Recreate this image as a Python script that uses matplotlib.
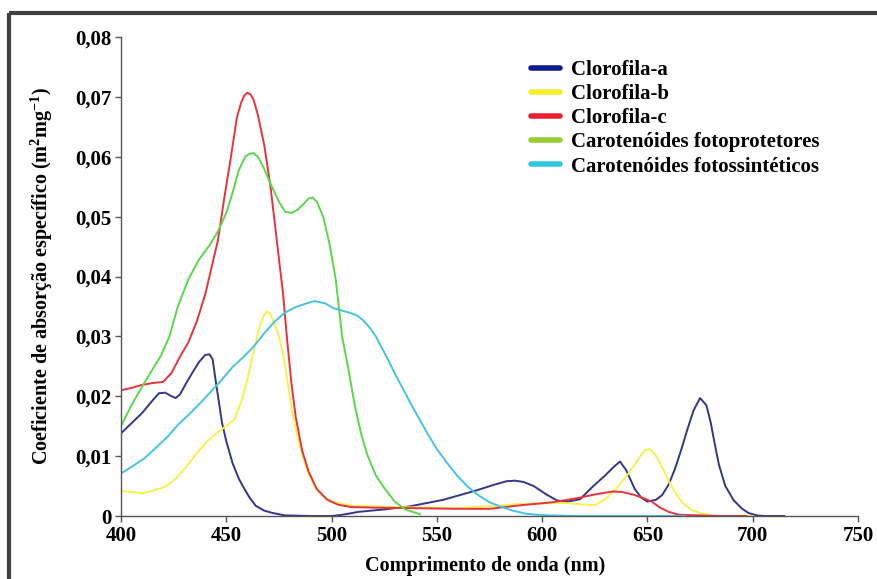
import matplotlib
matplotlib.use('Agg')
import matplotlib.pyplot as plt
from matplotlib.lines import Line2D

plt.rcParams['font.family'] = ['Liberation Serif', 'DejaVu Serif']
plt.rcParams['font.weight'] = 'bold'
plt.rcParams['mathtext.fontset'] = 'custom'
plt.rcParams['mathtext.rm'] = 'Liberation Serif:bold'
plt.rcParams['mathtext.bf'] = 'Liberation Serif:bold'

# Clorofila-a
wl_a = [400, 405, 410, 415, 418, 421, 424, 426, 428, 431, 434, 437, 440, 442, 443.5, 445, 448,
        450, 453, 456, 458, 461, 464, 468, 472, 478, 490, 500, 505, 513, 525, 537, 553, 569,
        577, 583, 587, 591, 596, 602, 607, 612, 618, 624, 630, 634, 637, 640, 644, 647, 650,
        654, 657, 660, 663, 666, 669, 672, 675, 678, 680, 682, 684, 687, 691, 695, 698, 702,
        706, 715]
abs_a = [0.0138, 0.0155, 0.0172, 0.0193, 0.0205, 0.0206, 0.0200, 0.0197, 0.0203, 0.0222,
         0.0240, 0.0257, 0.0269, 0.0270, 0.0262, 0.0225, 0.0155, 0.0125, 0.0088, 0.0062,
         0.0049, 0.0031, 0.0017, 0.0009, 0.0005, 0.0001, 0.0, 0.0, 0.0002, 0.0007, 0.0011,
         0.0016, 0.0027, 0.0043, 0.0052, 0.0058, 0.0059, 0.0057, 0.0050, 0.0036, 0.0026,
         0.0024, 0.0028, 0.0049, 0.0068, 0.0082, 0.0091, 0.0076, 0.0045, 0.0031, 0.0024,
         0.0027, 0.0035, 0.0052, 0.0078, 0.0110, 0.0145, 0.0177, 0.0197, 0.0185, 0.0157,
         0.0120, 0.0085, 0.0050, 0.0026, 0.0012, 0.0005, 0.0001, 0.0, 0.0]

# Clorofila-b
wl_b = [400, 405, 410, 415, 421, 426, 431, 436, 441, 446, 451, 454, 457, 460, 462, 464, 466,
        468, 469.5, 471, 473, 475, 477, 479, 481, 483, 485, 488, 492, 496, 500, 510, 530, 560,
        590, 610, 620, 625, 630, 635, 640, 644, 647, 649, 651, 653, 655, 658, 661, 664, 667,
        671, 675, 682, 700]
abs_b = [0.0042, 0.0040, 0.0038, 0.0042, 0.0049, 0.0062, 0.0082, 0.0105, 0.0125, 0.0140,
         0.0153, 0.0162, 0.0190, 0.0227, 0.0260, 0.0290, 0.0318, 0.0336, 0.0342, 0.0337,
         0.0320, 0.0300, 0.0270, 0.0225, 0.0180, 0.0145, 0.0116, 0.0080, 0.0048, 0.0033,
         0.0024, 0.0017, 0.0015, 0.0013, 0.0020, 0.0022, 0.0019, 0.0018, 0.0028, 0.0045,
         0.0066, 0.0086, 0.0102, 0.0110, 0.0112, 0.0106, 0.0095, 0.0074, 0.0052, 0.0035,
         0.0021, 0.0010, 0.0005, 0.0, 0.0]

# Clorofila-c
wl_c = [400, 405, 410, 415, 420, 424, 428, 432, 436, 440, 443, 446, 449, 452, 455, 457, 458.5,
        460, 461.5, 463, 465, 468, 471, 474, 477, 479, 481, 483, 486, 489, 493, 498, 503, 509,
        520, 540, 560, 575, 590, 605, 617, 625, 630, 634, 638, 643, 648, 652, 656, 660, 665,
        675, 685, 697]
abs_c = [0.0210, 0.0214, 0.0219, 0.0222, 0.0224, 0.0239, 0.0266, 0.0290, 0.0325, 0.0370,
         0.0415, 0.0460, 0.0530, 0.0595, 0.0665, 0.0690, 0.0702, 0.0707, 0.0704, 0.0695,
         0.0670, 0.0620, 0.0550, 0.0460, 0.0370, 0.0290, 0.0220, 0.0165, 0.0110, 0.0075,
         0.0045, 0.0027, 0.0019, 0.0015, 0.0014, 0.0013, 0.0012, 0.0012, 0.0018, 0.0023,
         0.0030, 0.0036, 0.0039, 0.0041, 0.0040, 0.0036, 0.0030, 0.0024, 0.0014, 0.0007,
         0.0002, 0.0001, 0.0, 0.0]

# Carotenóides fotoprotetores
wl_g = [400, 405, 410, 415, 419, 423, 427, 432, 437, 442, 446, 450, 453, 456, 459, 461, 463,
        465, 468, 471, 475, 478, 481, 484, 487, 489, 491, 493, 496, 499, 502, 505, 508, 511,
        514, 517, 521, 525, 530, 535, 542]
abs_g = [0.0150, 0.0185, 0.0216, 0.0245, 0.0268, 0.0300, 0.0350, 0.0395, 0.0428, 0.0452,
         0.0475, 0.0506, 0.0540, 0.0578, 0.0600, 0.0605, 0.0606, 0.0600, 0.0580, 0.0555,
         0.0525, 0.0508, 0.0506, 0.0512, 0.0522, 0.0530, 0.0532, 0.0525, 0.0500, 0.0455,
         0.0395, 0.0300, 0.0245, 0.0185, 0.0138, 0.0102, 0.0068, 0.0047, 0.0024, 0.0011,
         0.0003]

# Carotenóides fotossintéticos
wl_p = [400, 405, 411, 416, 422, 427, 433, 438, 442, 448, 453, 458, 463, 468, 473, 478, 483,
        488, 492, 497, 501, 505, 509, 512, 515, 518, 521, 524, 527, 530, 534, 538, 542, 546,
        550, 555, 560, 565, 570, 575, 580, 586, 592, 598, 604, 615, 640, 668]
abs_p = [0.0071, 0.0082, 0.0096, 0.0112, 0.0132, 0.0152, 0.0172, 0.0190, 0.0205, 0.0228,
         0.0249, 0.0265, 0.0283, 0.0305, 0.0325, 0.0340, 0.0349, 0.0355, 0.0359, 0.0355,
         0.0347, 0.0343, 0.0339, 0.0335, 0.0327, 0.0315, 0.0300, 0.0280, 0.0260, 0.0238,
         0.0212, 0.0185, 0.0160, 0.0135, 0.0112, 0.0088, 0.0066, 0.0048, 0.0034, 0.0023,
         0.0016, 0.0009, 0.0004, 0.0002, 0.0001, 0.0, 0.0, 0.0]

labels = ['Clorofila-a', 'Clorofila-b', 'Clorofila-c',
          'Carotenóides fotoprotetores', 'Carotenóides fotossintéticos']
line_colors = ['#35358a', '#f6f24a', '#e8323c', '#5cd64c', '#45c3e6']
legend_colors = ['#0d1b8c', '#f5ee2a', '#e8202e', '#9acd32', '#2fc8dc']

fig = plt.figure(figsize=(8.77, 5.79), dpi=100)
ax = fig.add_axes([121/877, 1-516/579, 737/877, 479/579])

series = [(wl_a, abs_a), (wl_b, abs_b), (wl_c, abs_c), (wl_g, abs_g), (wl_p, abs_p)]
for (x, y), c in zip(series, line_colors):
    ax.plot(x, y, color=c, lw=1.4, solid_joinstyle='round')

ax.set_xlim(400, 750)
ax.set_ylim(0, 0.08)
ax.set_xticks([400, 450, 500, 550, 600, 650, 700, 750])
ax.set_yticks([0, 0.01, 0.02, 0.03, 0.04, 0.05, 0.06, 0.07, 0.08])
ax.set_yticklabels(['0', '0,01', '0,02', '0,03', '0,04', '0,05', '0,06', '0,07', '0,08'])
ax.tick_params(direction='out', length=4, width=1, colors='#555555', labelcolor='black',
               labelsize=15, pad=3)
for s in ['top', 'right']:
    ax.spines[s].set_visible(False)
for s in ['left', 'bottom']:
    ax.spines[s].set_color('#555555')
    ax.spines[s].set_linewidth(1)
ax.margins(0)

ax.set_xlabel('Comprimento de onda (nm)', fontsize=14.5, fontweight='bold')
ax.xaxis.set_label_coords(0.494, -0.083)
ax.set_ylabel('Coeficiente de absorção específico (m$^{2}$mg$^{-1}$)', fontsize=14.5,
              fontweight='bold')
ax.yaxis.set_label_coords(-0.09, 0.5)

handles = [Line2D([0], [0], color=c, lw=4, solid_capstyle='round') for c in legend_colors]
fig.legend(handles, labels, loc='upper left', bbox_to_anchor=(531/877, 1-60/579),
           frameon=False, fontsize=15, handlelength=1.4, handletextpad=0.5,
           labelspacing=0.2, borderpad=0, borderaxespad=0)

# frame around the picture
fig.add_artist(Line2D([9/877, 9/877], [0, 1-13/579], color='#404040', lw=3,
                      transform=fig.transFigure, solid_capstyle='butt'))
fig.add_artist(Line2D([9/877, 1], [1-13/579, 1-13/579], color='#404040', lw=3,
                      transform=fig.transFigure, solid_capstyle='butt'))

fig.savefig('out.png', dpi=100)
plt.close(fig)
